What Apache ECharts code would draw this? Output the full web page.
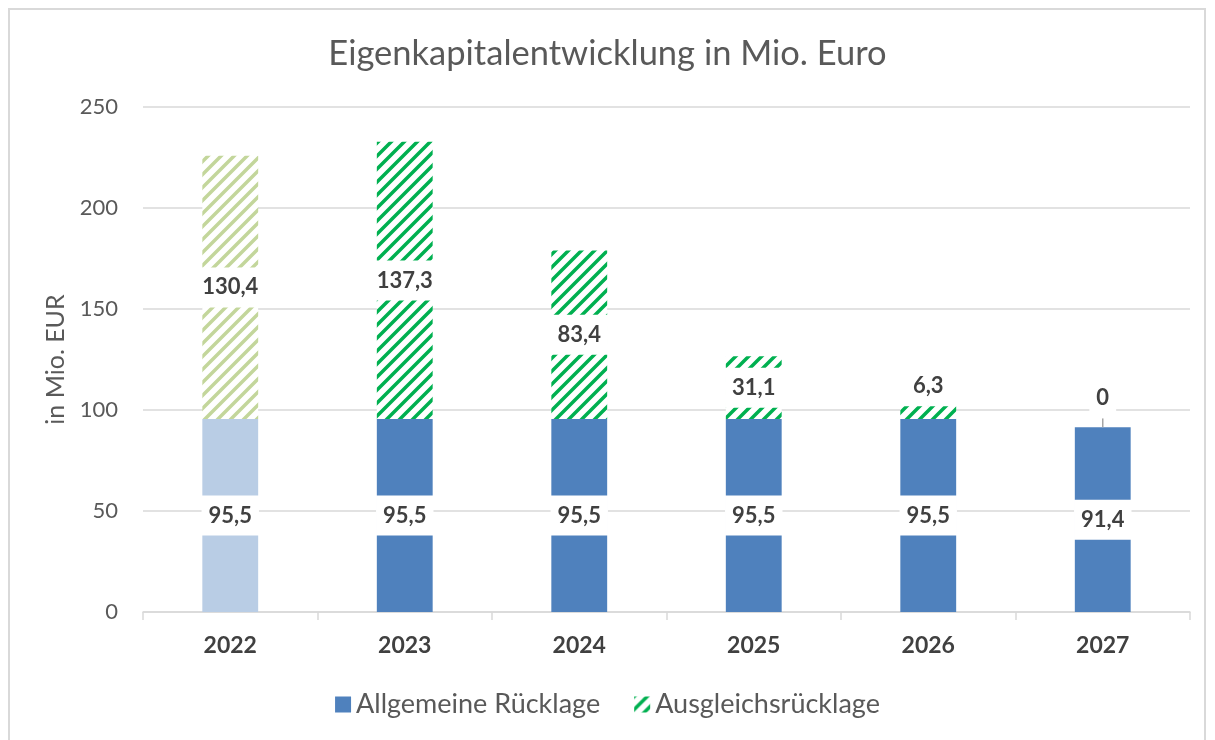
<!DOCTYPE html>
<html>
<head>
<meta charset="utf-8">
<script src="https://cdn.jsdelivr.net/npm/echarts@6/dist/echarts.min.js"></script>
<style>
  html, body { margin: 0; padding: 0; background: #fff; }
  #frame { position: absolute; left: 8px; top: 8px; width: 1198px; height: 740px; border: 2px solid #d9d9d9; box-sizing: border-box; }
  #chart { width: 1215px; height: 740px; position: absolute; left: 0; top: 0; }
</style>
</head>
<body>
<div id="frame"></div>
<div id="chart"></div>
<script>
// data
const years = ["2022", "2023", "2024", "2025", "2026", "2027"];
const allgemeine = [95.5, 95.5, 95.5, 95.5, 95.5, 91.4];
const ausgleich = [130.4, 137.3, 83.4, 31.1, 6.3, 0];
const yTicks = [0, 50, 100, 150, 200, 250];

const FONT = "Lato";

// diagonal hatch tile (like Excel "wide upward diagonal")
function hatch(color) {
  const s = 13;
  const c = document.createElement("canvas");
  c.width = s; c.height = s;
  const ctx = c.getContext("2d");
  ctx.fillStyle = "#fff";
  ctx.fillRect(0, 0, s, s);
  ctx.strokeStyle = color;
  ctx.lineWidth = 3.5;
  ctx.beginPath();
  ctx.moveTo(-2, s + 2); ctx.lineTo(s + 2, -2);
  ctx.moveTo(-2, 2); ctx.lineTo(2, -2);
  ctx.moveTo(s - 2, s + 2); ctx.lineTo(s + 2, s - 2);
  ctx.stroke();
  return { image: c, repeat: "repeat" };
}

const BLUE = "#4f81bd", BLUE_LIGHT = "#b9cde5";
const GREEN = "#00b050", GREEN_LIGHT = "#c3d69b";

const labelStyle = {
  show: true,
  position: "inside",
  color: "#404040",
  fontFamily: FONT,
  fontWeight: "bold",
  fontSize: 22,
  backgroundColor: "#fff",
  borderWidth: 0,
  textBorderWidth: 0,
  textShadowBlur: 0,
  padding: [9, 7],
  formatter: (p) => String(p.value).replace(".", ","),
};

const blueData = allgemeine.map((v, i) =>
  i === 0 ? { value: v, itemStyle: { color: BLUE_LIGHT } } : v
);
const greenData = ausgleich.map((v, i) =>
  i === 0 ? { value: v, itemStyle: { color: hatch(GREEN_LIGHT) } } : v
);

const chart = echarts.init(document.getElementById("chart"), null, { renderer: "canvas" });

chart.setOption({
  animation: false,
  backgroundColor: "transparent",
  title: {
    text: "Eigenkapitalentwicklung in Mio. Euro",
    left: "center",
    top: 31,
    textStyle: { fontFamily: FONT, fontSize: 34.5, fontWeight: "normal", color: "#595959" },
  },
  grid: { left: 143, right: 25, top: 107, bottom: 128 },
  legend: {
    bottom: 17,
    left: "center",
    itemWidth: 16,
    itemHeight: 16,
    itemGap: 34,
    textStyle: { fontFamily: FONT, fontSize: 27, color: "#595959" },
    data: [
      { name: "Allgemeine Rücklage", icon: "rect", itemStyle: { color: BLUE } },
      { name: "Ausgleichsrücklage", icon: "rect", itemStyle: { color: hatch(GREEN) } },
    ],
  },
  xAxis: {
    type: "category",
    data: years,
    axisLine: { lineStyle: { color: "#d9d9d9", width: 1.5 } },
    axisTick: { show: true, length: 8, lineStyle: { color: "#d9d9d9", width: 1.5 } },
    axisLabel: { fontFamily: FONT, fontSize: 23, fontWeight: "bold", color: "#404040", margin: 22 },
  },
  yAxis: {
    type: "value",
    min: yTicks[0],
    max: yTicks[yTicks.length - 1],
    interval: 50,
    name: "in Mio. EUR",
    nameLocation: "middle",
    nameRotate: 90,
    nameGap: 69,
    nameTextStyle: { fontFamily: FONT, fontSize: 25, color: "#595959" },
    axisLine: { show: false },
    axisTick: { show: false },
    axisLabel: { fontFamily: FONT, fontSize: 22, color: "#595959", margin: 25 },
    splitLine: { lineStyle: { color: "#d9d9d9", width: 1.5 } },
  },
  series: [
    {
      name: "Allgemeine Rücklage",
      type: "bar",
      stack: "ek",
      barCategoryGap: "68%",
      data: blueData,
      itemStyle: { color: BLUE },
      label: labelStyle,
      z: 2,
    },
    {
      name: "Ausgleichsrücklage",
      type: "bar",
      stack: "ek",
      data: greenData,
      itemStyle: { color: hatch(GREEN) },
      label: labelStyle,
      labelLayout: (p) => {
        if (p.dataIndex === 4) return { dy: -27 };
        if (p.dataIndex === 5) return { dy: -29 };
        return {};
      },
      labelLine: { show: true, lineStyle: { color: "#a6a6a6", width: 1.5 } },
      z: 3,
    },
  ],
});
</script>
</body>
</html>
